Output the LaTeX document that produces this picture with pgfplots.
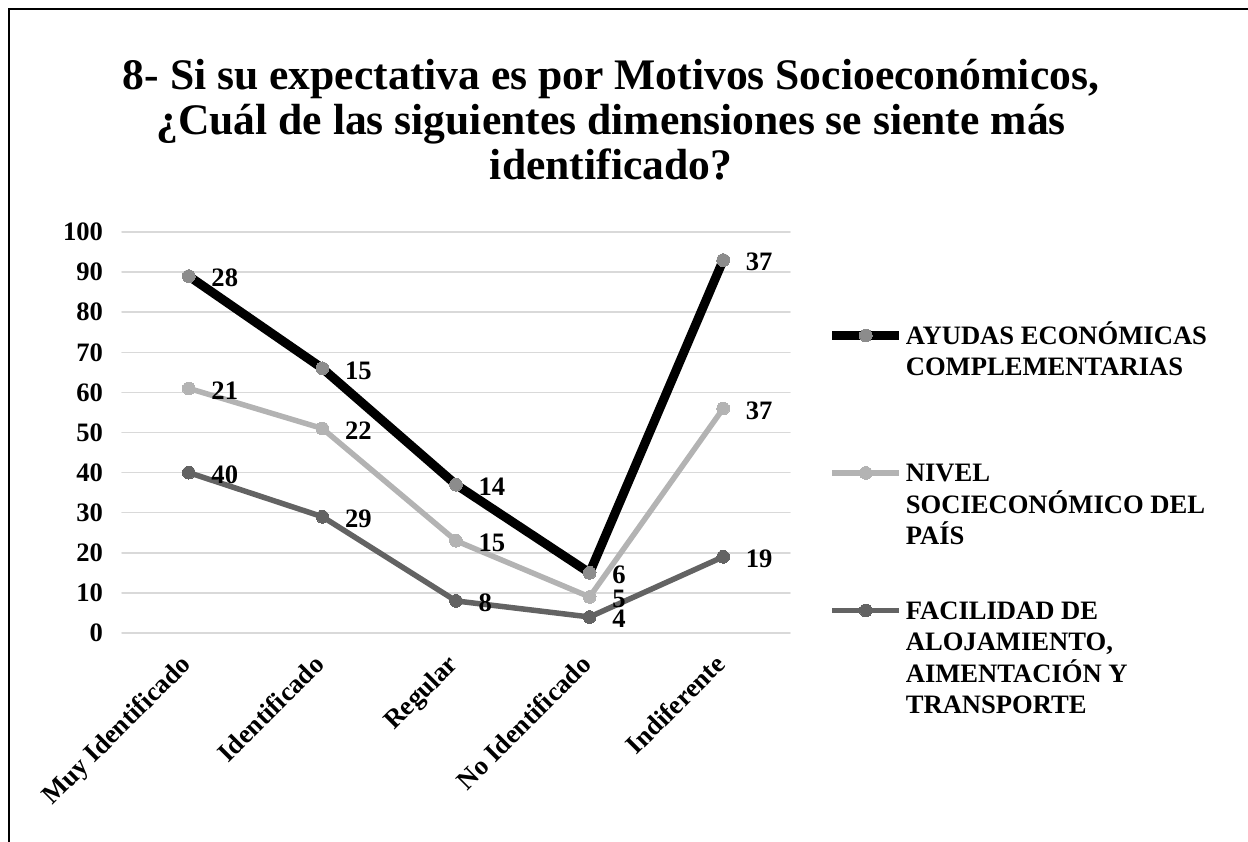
\documentclass[border=0pt]{standalone}
\usepackage{fontspec}
\setmainfont{Liberation Serif}
\usepackage{pgfplots}
\pgfplotsset{compat=1.18}
\definecolor{gridc}{HTML}{D9D9D9}
\definecolor{markA}{HTML}{8C8C8C}
\definecolor{lineB}{HTML}{B3B3B3}
\definecolor{lineC}{HTML}{636363}
\begin{document}
\begin{tikzpicture}
\useasboundingbox (0,0) rectangle (624pt,-420.5pt);
\draw[line width=1pt] (4.5pt,-421pt) -- (4.5pt,-4.5pt) -- (625pt,-4.5pt);
\node[font=\bfseries\fontsize{21.8}{22.5}\selectfont, align=center] at (305.5pt,-60pt)
  {8- Si su expectativa es por Motivos Socioeconómicos,\\ ¿Cuál de las siguientes dimensiones se siente más\\ identificado?};
\begin{axis}[
  at={(61pt,-316.5pt)}, anchor=south west,
  width=334pt, height=200.5pt, scale only axis,
  xmin=-0.5, xmax=4.5, ymin=0, ymax=100,
  ytick={0,10,...,100},
  xtick={0,1,2,3,4},
  xticklabels={Muy Identificado, Identificado, Regular, No Identificado, Indiferente},
  axis line style={draw=none},
  major tick style={draw=none},
  ymajorgrids, grid style={gridc, line width=0.75pt},
  /pgf/number format/assume math mode=true,
  font=\bfseries\fontsize{13.3}{15.75}\selectfont,
  yticklabel style={xshift=-6pt},
  xticklabel style={xshift=-5pt, yshift=-5pt, rotate=45, anchor=north east},
  clip=false,
  stack plots=y,
  point meta=rawy,
  nodes near coords,
  nodes near coords style={anchor=west, xshift=8pt, yshift=-1pt, text=black, font=\bfseries\fontsize{13.3}{15.75}\selectfont},
  reverse legend,
  legend style={at={(1.056,0.783)}, anchor=north west, draw=none, fill=none,
    inner sep=0pt, row sep=0pt, column sep=1pt,
    nodes={inner sep=0pt, text height=12.5pt, text depth=56.25pt},
    cells={anchor=base west},
    font=\bfseries\fontsize{13.3}{15.75}\selectfont},
  legend image code/.code={\begin{scope}[yshift=4.5pt]
    \draw[mark repeat=2, mark phase=2, #1] plot coordinates {(0pt,0pt) (16.75pt,0pt) (33.5pt,0pt)};
    \end{scope}},
  line cap=round, line join=round,
]
\addplot[lineC, line width=2.75pt, mark=*, mark size=3.2pt, mark options={fill=lineC, draw=lineC, line width=0pt}]
  coordinates {(0,40) (1,29) (2,8) (3,4) (4,19)};
\addlegendentry{\parbox[t]{170pt}{FACILIDAD DE\\ALOJAMIENTO,\\AIMENTACIÓN Y\\TRANSPORTE}}
\addplot[lineB, line width=2.75pt, mark=*, mark size=3.2pt, mark options={fill=lineB, draw=lineB, line width=0pt}]
  coordinates {(0,21) (1,22) (2,15) (3,5) (4,37)};
\addlegendentry{\parbox[t]{170pt}{NIVEL\\SOCIECONÓMICO DEL\\PAÍS}}
\addplot[black, line width=4.5pt, mark=*, mark size=3.2pt, mark options={fill=markA, draw=markA, line width=0pt}]
  coordinates {(0,28) (1,15) (2,14) (3,6) (4,37)};
\addlegendentry{\parbox[t]{170pt}{AYUDAS ECONÓMICAS\\COMPLEMENTARIAS}}
\end{axis}
\end{tikzpicture}
\end{document}
